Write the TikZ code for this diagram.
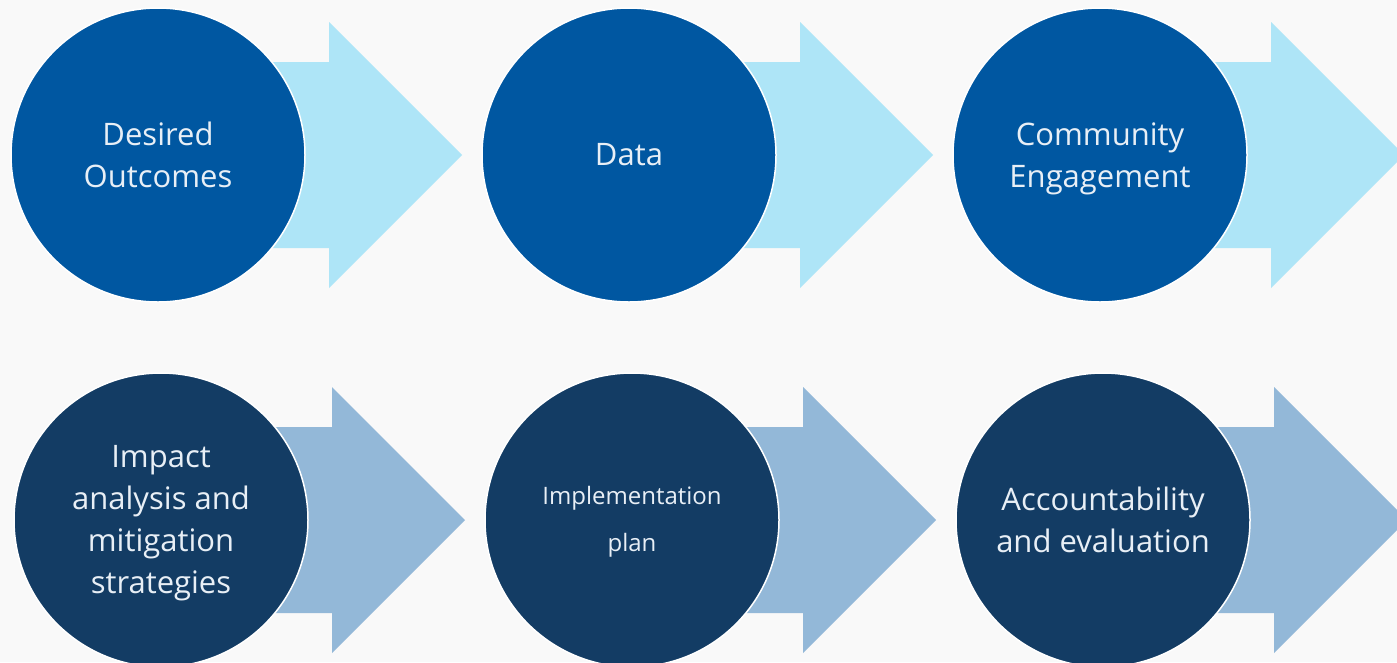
\documentclass[tikz,border=0pt]{standalone}
\usepackage{fontspec}
\setmainfont{Open Sans}
\definecolor{bg}{HTML}{F9F9F9}
\definecolor{topcirc}{HTML}{0057A1}
\definecolor{toparrow}{HTML}{AEE5F7}
\definecolor{botcirc}{HTML}{133C64}
\definecolor{botarrow}{HTML}{93B8D8}
\definecolor{txt}{HTML}{E8EFF6}
\tikzset{
  stage/.style={circle, minimum size=294pt, inner sep=0pt, draw=white, line width=1.5pt},
  topstage/.style={stage, fill=topcirc},
  botstage/.style={stage, fill=botcirc},
  stagetext/.style={text=txt, align=center, inner sep=0pt, font=\fontsize{31}{42}\selectfont},
}
\newcommand{\bigarrow}[3]{%
  \fill[#3] (#1,#2-93) -- (#1+171,#2-93) -- (#1+171,#2-133) -- (#1+304,#2) -- (#1+171,#2+133) -- (#1+171,#2+93) -- (#1,#2+93) -- cycle;}
\begin{document}
\begin{tikzpicture}[x=1pt,y=-1pt]
\useasboundingbox (0,0) rectangle (1397,662);
\clip (0,0) rectangle (1397,662);
\fill[bg] (0,0) rectangle (1397,662);
% top row
\bigarrow{158}{155}{toparrow}
\bigarrow{629}{155}{toparrow}
\bigarrow{1100}{155}{toparrow}
\node[topstage] (c1) at (158,155) {};
\node[topstage] (c2) at (629,155) {};
\node[topstage] (c3) at (1100,155) {};
\node[stagetext] (t1) at (c1.center) {Desired\\Outcomes};
\node[stagetext] (t2) at (c2.center) {Data};
\node[stagetext, yshift=-4pt] (t3) at (c3.center) {Community\\Engagement};
% bottom row
\bigarrow{161}{520}{botarrow}
\bigarrow{632}{520}{botarrow}
\bigarrow{1103}{520}{botarrow}
\node[botstage] (c4) at (161,520) {};
\node[botstage] (c5) at (632,520) {};
\node[botstage] (c6) at (1103,520) {};
\node[stagetext, yshift=-3pt] (t4) at (c4.center) {Impact\\analysis and\\mitigation\\strategies};
\node[stagetext, yshift=-2pt, font=\fontsize{24}{47}\selectfont] (t5) at (c5.center) {Implementation\\plan};
\node[stagetext] (t6) at (c6.center) {Accountability\\and evaluation};
\end{tikzpicture}
\end{document}
